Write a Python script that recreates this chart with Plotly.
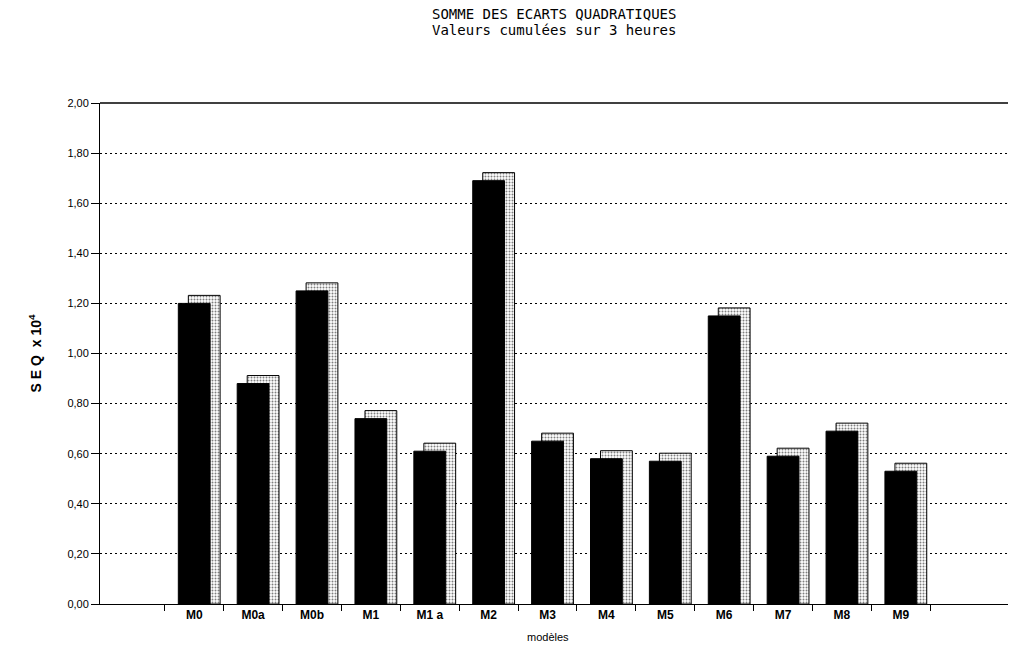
import plotly.graph_objects as go

modeles = ['M0', 'M0a', 'M0b', 'M1', 'M1 a', 'M2', 'M3', 'M4', 'M5', 'M6', 'M7', 'M8', 'M9']
seq = [1.20, 0.88, 1.25, 0.74, 0.61, 1.69, 0.65, 0.58, 0.57, 1.15, 0.59, 0.69, 0.53]
yticks = [0, 0.2, 0.4, 0.6, 0.8, 1.0, 1.2, 1.4, 1.6, 1.8, 2.0]

depth = 0.032  # fake 3d depth in y units

fig = go.Figure()

# stippled side/top face behind the black front
fig.add_trace(go.Bar(
    x=modeles, y=[v + depth for v in seq],
    width=0.54, offset=-0.27 + 0.17,
    marker=dict(color='white', line=dict(color='black', width=1),
                pattern=dict(shape='.', fgcolor='black', bgcolor='white', size=3, solidity=0.35)),
    hoverinfo='skip', showlegend=False))

# front face
fig.add_trace(go.Bar(
    x=modeles, y=seq,
    width=0.54, offset=-0.27,
    marker=dict(color='black', line=dict(color='black', width=1)),
    showlegend=False))

title_font = dict(family='DejaVu Sans Mono', size=14, color='black')

fig.update_layout(
    width=1010, height=653,
    barmode='overlay',
    separators=', ',
    paper_bgcolor='white', plot_bgcolor='white',
    margin=dict(l=100, r=2, t=103, b=49, autoexpand=False),
    font=dict(family='Liberation Sans', color='black', size=12),
    xaxis=dict(type='category', range=[-1.6, 13.82], tickson='boundaries',
               ticks='outside', ticklen=6, tickcolor='black',
               showline=True, linecolor='black', linewidth=1,
               showgrid=False, automargin=False,
               tickfont=dict(size=12, weight='bold')),
    yaxis=dict(range=[0, 2.0], tickvals=yticks, tickformat='.2f',
               ticks='outside', ticklen=8, tickcolor='black',
               showline=True, linecolor='black', linewidth=1,
               showgrid=True, gridcolor='black', griddash='2px,3px', gridwidth=1,
               zeroline=False, automargin=False, tickfont=dict(size=11),
               title=dict(text='S E Q  x 10<sup>4</sup>', font=dict(size=14, weight='bold'),
                          standoff=22)),
    shapes=[dict(type='line', xref='paper', yref='paper', x0=0, x1=1, y0=1, y1=1,
                 line=dict(color='black', width=1.5))],
    annotations=[
        dict(text='SOMME DES ECARTS QUADRATIQUES', x=0.5, y=1.1776, xref='paper', yref='paper',
             yanchor='middle', showarrow=False, font=title_font),
        dict(text='Valeurs cumulées sur 3 heures', x=0.5, y=1.1457, xref='paper', yref='paper',
             yanchor='middle', showarrow=False, font=title_font),
        dict(text='modèles', x='M3', y=0, xref='x', yref='paper',
             yshift=-41, showarrow=False, font=dict(size=11)),
    ],
)

fig.write_html('out.html', config={'displayModeBar': False},
               post_script="document.body.style.margin='0';document.body.style.overflow='hidden';")
